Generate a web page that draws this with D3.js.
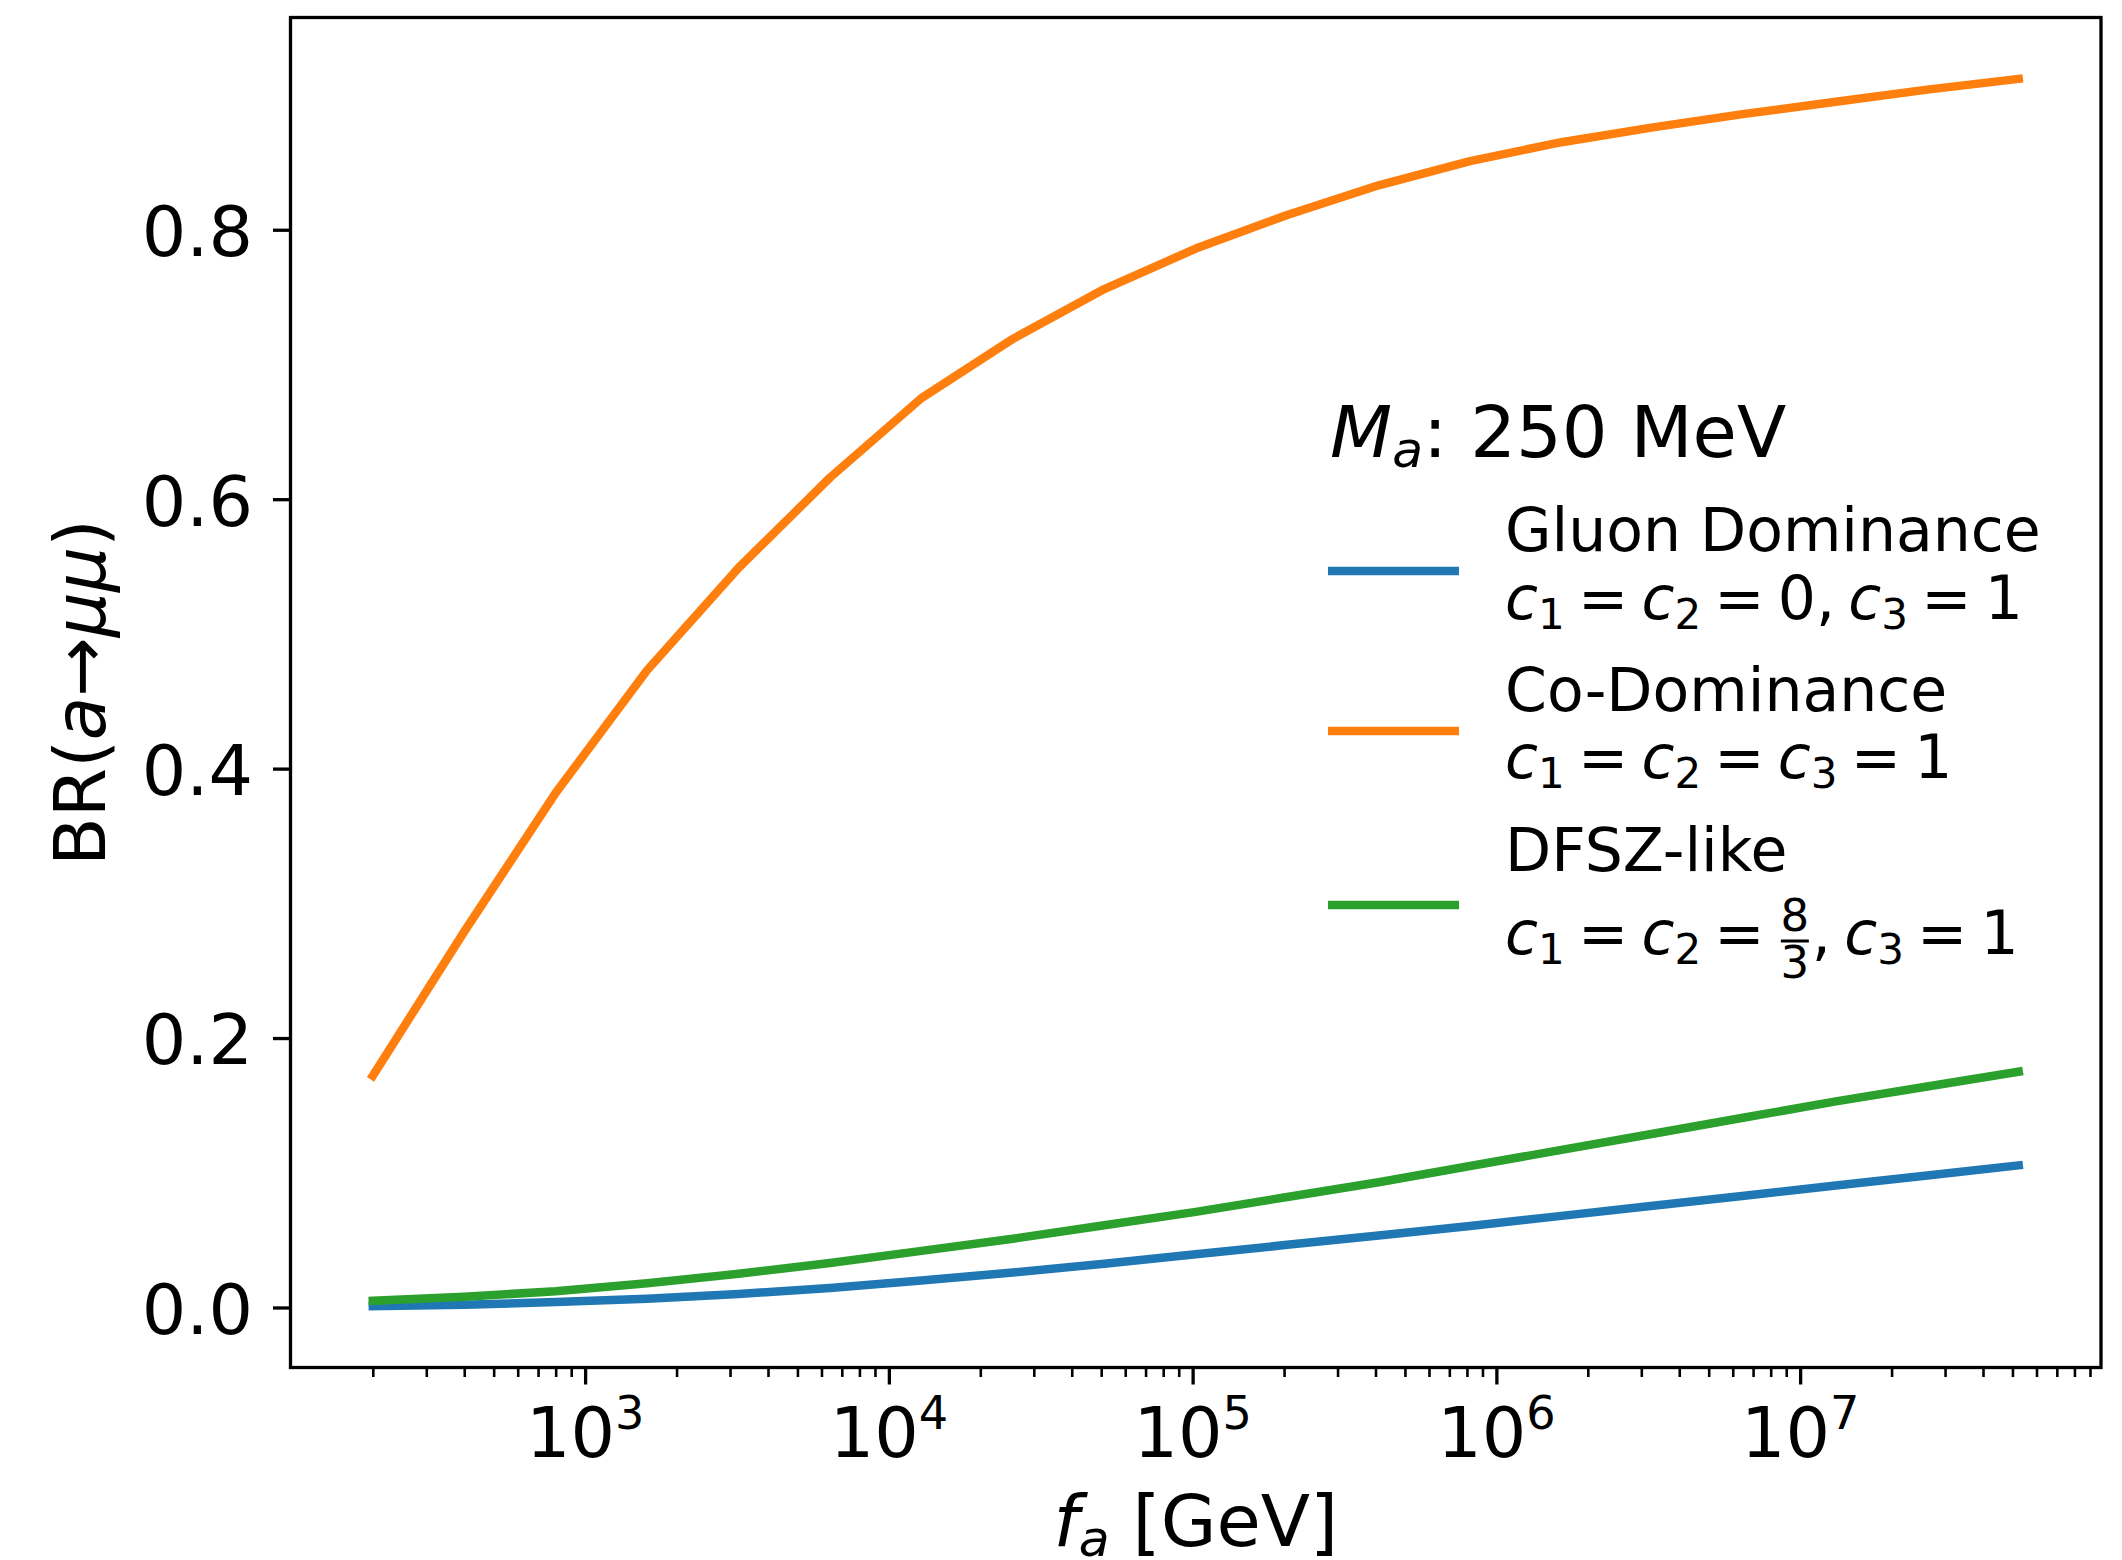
<!DOCTYPE html>
<html><head><meta charset="utf-8">
<script src="https://cdn.jsdelivr.net/npm/d3@7"></script>
<style>
body{margin:0;background:#fff}
text{font-family:'DejaVu Sans';fill:#000}
</style>
</head><body>
<svg id="c" width="2122" height="1560"></svg>
<script>
// ---------------- data ----------------
const faGeV = [200, 400, 800, 1600, 3200, 6400, 12800, 25600, 51200, 102400, 204800, 409600, 819200, 1638400, 3276800, 6553600, 13107200, 26214400, 52428800];
const gluonDominance = [0.001, 0.002, 0.004, 0.0065, 0.010, 0.0145, 0.020, 0.026, 0.0325, 0.0395, 0.0465, 0.0535, 0.0605, 0.068, 0.0755, 0.083, 0.0905, 0.098, 0.1055];
const coDominance = [0.172, 0.279, 0.382, 0.473, 0.549, 0.616, 0.675, 0.719, 0.756, 0.786, 0.811, 0.833, 0.851, 0.865, 0.876, 0.886, 0.895, 0.904, 0.912];
const dfszLike = [0.005, 0.008, 0.012, 0.018, 0.025, 0.033, 0.042, 0.051, 0.061, 0.071, 0.082, 0.093, 0.105, 0.117, 0.129, 0.141, 0.153, 0.164, 0.175];
const seriesNames = ["Gluon Dominance", "Co-Dominance", "DFSZ-like"];
const seriesColors = ["#1f77b4", "#ff7f0e", "#2ca02c"];
const yTickValues = [0, 0.2, 0.4, 0.6, 0.8];
const yTickLabels = ["0.0", "0.2", "0.4", "0.6", "0.8"];
const xMajorTicks = [1e3, 1e4, 1e5, 1e6, 1e7];
const xMajorExponents = ["3", "4", "5", "6", "7"];

// ---------------- layout ----------------
const L = 290.5, R = 2101, T = 17.5, B = 1367.5;
const svg = d3.select('#c');
svg.append('rect').attr('width', 2122).attr('height', 1560).attr('fill', '#fff');

const lx = faGeV.map(v => Math.log10(v));
const lmin = d3.min(lx), lmax = d3.max(lx), lp = 0.05 * (lmax - lmin);
const x = d3.scaleLog().domain([Math.pow(10, lmin - lp), Math.pow(10, lmax + lp)]).range([L, R]);
const allY = gluonDominance.concat(coDominance, dfszLike);
const ymin = d3.min(allY), ymax = d3.max(allY), yp = 0.05 * (ymax - ymin);
const y = d3.scaleLinear().domain([ymin - yp, ymax + yp]).range([B, T]);

// math-text helper: every piece is non-empty; shift is absolute (px, +down)
function mathLine(parent, px, py, size, pieces, anchor) {
  const t = parent.append('text').attr('x', px).attr('y', py).attr('font-size', size)
    .attr('text-anchor', anchor || 'start').style('white-space', 'pre');
  let cur = 0;
  for (const p of pieces) {
    const shift = (p.shift || 0);
    const ts = t.append('tspan').text(p.t);
    if (p.it) ts.attr('font-style', 'italic');
    if (p.scale) ts.attr('font-size', size * p.scale);
    if (shift !== cur) { ts.attr('dy', shift - cur); cur = shift; }
  }
  return t;
}

// ---------------- lines ----------------
const series = [gluonDominance, coDominance, dfszLike];
const line = d3.line().x(d => x(d[0])).y(d => y(d[1]));
series.forEach((s, i) => {
  svg.append('path').attr('d', line(faGeV.map((f, k) => [f, s[k]])))
    .attr('fill', 'none').attr('stroke', seriesColors[i]).attr('stroke-width', 8.5)
    .attr('stroke-linejoin', 'round').attr('stroke-linecap', 'square');
});

// ---------------- axes ----------------
const yAx = svg.append('g').attr('transform', `translate(${L},0)`)
  .call(d3.axisLeft(y).tickValues(yTickValues).tickFormat((d, i) => yTickLabels[i]).tickSize(17.5).tickPadding(20));
yAx.select('.domain').remove();
yAx.selectAll('line').attr('stroke', '#000').attr('stroke-width', 3.3);
yAx.selectAll('text').attr('font-size', 70).attr('font-family', 'DejaVu Sans').attr('dy', '0.37em').attr('fill', '#000');

const xAx = svg.append('g').attr('transform', `translate(0,${B})`)
  .call(d3.axisBottom(x).tickValues(xMajorTicks).tickFormat('').tickSize(17));
xAx.select('.domain').remove();
xAx.selectAll('line').attr('stroke', '#000').attr('stroke-width', 3.3);
const minor = [];
const [d0, d1] = x.domain();
for (let e = Math.floor(Math.log10(d0)); e <= Math.ceil(Math.log10(d1)); e++) {
  for (let m = 2; m <= 9; m++) { const v = m * Math.pow(10, e); if (v >= d0 && v <= d1) minor.push(v); }
}
const xMin = svg.append('g').attr('transform', `translate(0,${B})`)
  .call(d3.axisBottom(x).tickValues(minor).tickFormat('').tickSize(9.5));
xMin.select('.domain').remove();
xMin.selectAll('line').attr('stroke', '#000').attr('stroke-width', 2.6);
xMajorTicks.forEach((v, i) => {
  mathLine(svg, x(v), 1456.7, 70, [{t: '10'}, {t: xMajorExponents[i], scale: 0.66, shift: -28}], 'middle');
});

svg.append('rect').attr('x', L).attr('y', T).attr('width', R - L).attr('height', B - T)
  .attr('fill', 'none').attr('stroke', '#000').attr('stroke-width', 3.3);

// axis labels
mathLine(svg, (L + R) / 2, 1546, 72, [{t: 'f', it: 1}, {t: 'a', it: 1, scale: 0.7, shift: 10}, {t: ' [GeV]'}], 'middle');
const yl = svg.append('g').attr('transform', `translate(105,${(T + B) / 2}) rotate(-90)`);
mathLine(yl, 0, 0, 71, [{t: 'BR('}, {t: 'a', it: 1}, {t: '\u2192'}, {t: '\u03bc\u03bc', it: 1}, {t: ')'}], 'middle');

// ---------------- legend ----------------
const lg = svg.append('g');
mathLine(lg, 1330, 456.5, 72, [{t: 'M', it: 1}, {t: 'a', it: 1, scale: 0.7, shift: 10.5}, {t: ': 250 MeV'}]);
const handleY = [571, 731, 905];
const line1Off = [-20, -20, -34];
const line2Off = [48, 47, 49];
const fs = 60, sub = 0.7, subShift = 10;
const SP = {t: '\u2005', scale: 0.88};
const EQ = [SP, {t: '='}, SP];
const c = k => [{t: 'c', it: 1}, {t: String(k), scale: sub, shift: subShift}];
const eqLines = [
  [...c(1), ...EQ, ...c(2), ...EQ, {t: '0,'}, SP, ...c(3), ...EQ, {t: '1'}],
  [...c(1), ...EQ, ...c(2), ...EQ, ...c(3), ...EQ, {t: '1'}],
  null
];
const textX = 1505;
seriesNames.forEach((name, i) => {
  lg.append('line').attr('x1', 1328).attr('x2', 1459).attr('y1', handleY[i]).attr('y2', handleY[i])
    .attr('stroke', seriesColors[i]).attr('stroke-width', 8.5);
  lg.append('text').attr('x', textX).attr('y', handleY[i] + line1Off[i]).attr('font-size', fs).text(name);
  const by = handleY[i] + line2Off[i];
  if (eqLines[i]) {
    mathLine(lg, textX, by, fs, eqLines[i]);
  } else {
    const t1 = mathLine(lg, textX, by, fs, [...c(1), ...EQ, ...c(2), ...EQ]);
    const w1 = t1.node().getComputedTextLength();
    const fx = textX + w1 + 3, fw = 28, fc = fx + fw / 2;
    lg.append('text').attr('x', fc).attr('y', by - 23).attr('font-size', 45).attr('text-anchor', 'middle').text('8');
    lg.append('line').attr('x1', fx).attr('x2', fx + fw).attr('y1', by - 13).attr('y2', by - 13).attr('stroke', '#000').attr('stroke-width', 3);
    lg.append('text').attr('x', fc).attr('y', by + 23.5).attr('font-size', 45).attr('text-anchor', 'middle').text('3');
    mathLine(lg, fx + fw + 3, by, fs, [{t: ','}, SP, ...c(3), ...EQ, {t: '1'}]);
  }
});
</script>
</body></html>
